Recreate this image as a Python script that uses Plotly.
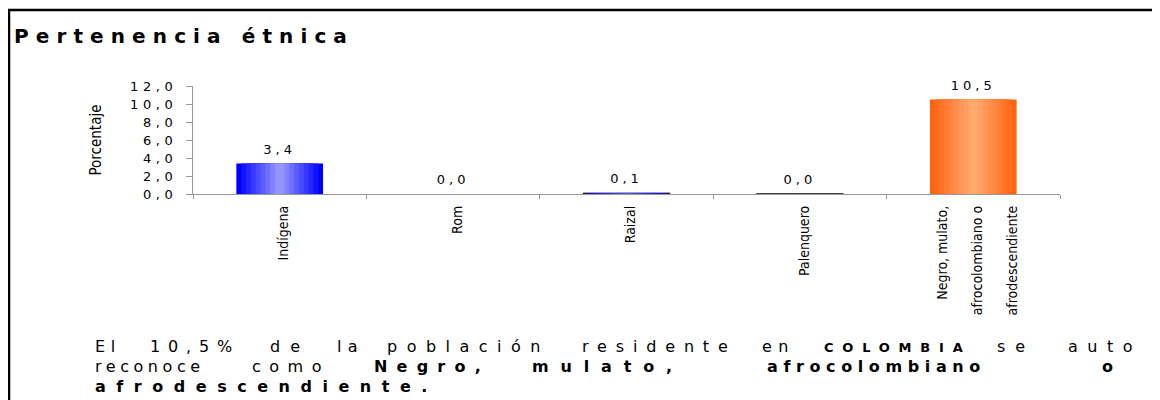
import plotly.graph_objects as go

# ---------------- data ----------------
categories = ["Indígena", "Rom", "Raizal", "Palenquero",
              "Negro, mulato, afrocolombiano o afrodescendiente"]
tick_labels = ["Indígena", "Rom", "Raizal", "Palenquero",
               "Negro, mulato,<br>afrocolombiano o<br>afrodescendiente"]
values = [3.4, 0.0, 0.1, 0.03, 10.5]
y_tick_values = [0, 2, 4, 6, 8, 10, 12]
y_tick_labels = ["0,0", "2,0", "4,0", "6,0", "8,0", "10,0", "12,0"]
title_text = "Pertenencia étnica"
y_title = "Porcentaje"

# ---------------- styles ----------------
edge_colors = ["#0000FF", "#0000FF", "#0000FF", "#404040", "#FF6410"]
center_colors = ["#9494FF", "#9494FF", "#5050FF", "#404040", "#FFA86C"]
outline_colors = ["rgba(0,0,0,0)", "rgba(0,0,0,0)", "#2a2a1a", "#333333", "rgba(0,0,0,0)"]
outline_widths = [0, 0, 1, 1, 0]

OFF = 8  # page body margin
W, H = 1152, 392
ML, MR, MT, MB = 185, 100, 78, 206
PW, PH = W - ML - MR, H - MT - MB

NARROW = "Liberation Sans Narrow, DejaVu Sans Condensed, Arial Narrow, sans-serif"


def px(x):
    return (x - OFF - ML) / PW


def py(y):
    return (H - MB - (y - OFF)) / PH


REG = {' ': .318, '%': .950, ',': .318, '.': .318, 'E': .632, 'a': .613, 'b': .635,
       'c': .550, 'd': .635, 'e': .615, 'i': .278, 'l': .278, 'm': .974, 'n': .634,
       'o': .612, 'ó': .612, 'p': .635, 'r': .411, 's': .521, 't': .392, 'u': .634}
BOLD = {' ': .348, 'a': .675, 'b': .716, 'c': .593, 'd': .716, 'e': .678, 'é': .678,
        'f': .435, 'g': .716, 'i': .343, 'l': .343, 'm': 1.042, 'n': .712, 'o': .687,
        'r': .493, 's': .595, 't': .478, 'u': .712, ',': .380, '.': .380, 'N': .837,
        'C': .734, 'O': .850, 'L': .637, 'M': .995, 'B': .762, 'I': .372, 'A': .774,
        'P': .733}


def spaced(text, size, bold, target):
    table = BOLD if bold else REG
    nat = sum(table.get(c, .636) for c in text) * size
    ls = max(0.0, (target - nat) / len(text))
    s = f'<span style="letter-spacing:{ls:.2f}px">{text}</span>'
    return f"<b>{s}</b>" if bold else s


def hex2rgb(h):
    h = h.lstrip('#')
    return tuple(int(h[i:i + 2], 16) for i in (0, 2, 4))


def mix(a, b, t):
    ra, rb = hex2rgb(a), hex2rgb(b)
    return "rgb(%d,%d,%d)" % tuple(round(ra[i] + (rb[i] - ra[i]) * t) for i in range(3))


fig = go.Figure()

# gradient bars: overlaid layers of decreasing width
N = 9
BAR_W = 0.5
for k in range(N):
    t = k / (N - 1)
    first = k == 0
    fig.add_trace(go.Bar(
        x=categories, y=values,
        width=BAR_W * (1 - k / N),
        marker=dict(color=[mix(e, c, t) for e, c in zip(edge_colors, center_colors)],
                    line=dict(color=outline_colors if first else "rgba(0,0,0,0)",
                              width=outline_widths if first else 0)),
        hoverinfo="skip",
        showlegend=False,
    ))

# value labels (invisible markers give the gap above each bar)
fig.add_trace(go.Scatter(
    x=categories, y=values, mode="markers+text",
    marker=dict(size=9, color="rgba(0,0,0,0)"),
    text=[f"{v:.1f}".replace(".", ",") for v in values],
    texttemplate='<span style="letter-spacing:4px">%{text}</span>',
    textposition="top center",
    textfont=dict(family="DejaVu Sans", size=13, color="#000"),
    cliponaxis=False, hoverinfo="skip", showlegend=False,
))

x_ticktext = [f'<span style="font-size:14px">{t}</span>' for t in tick_labels]
y_ticktext = [f'<span style="letter-spacing:4.6px">{t}</span>' for t in y_tick_labels]

annotations = [
    dict(text=spaced(title_text, 20, True, 340), x=px(12), y=py(36),
         xref="paper", yref="paper", xanchor="left", yanchor="middle", showarrow=False,
         font=dict(family="DejaVu Sans", size=20, color="#000")),
]

BS = 16
body_words = [
    # (text, size, bold, x_start, x_end, y_center)
    ("El", BS, False, 93, 119, 346),
    ("10,5%", BS, False, 148, 238, 346),
    ("de", BS, False, 268, 308, 346),
    ("la", BS, False, 335, 362, 346),
    ("población", BS, False, 385, 548, 346),
    ("residente", BS, False, 580, 735, 346),
    ("en", BS, False, 760, 793, 346),
    ("COLOMBIA", 13, True, 822, 970, 347),
    ("se", BS, False, 995, 1033, 346),
    ("auto", BS, False, 1066, 1140, 346),
    ("reconoce", BS, False, 93, 203, 366),
    ("como", BS, False, 250, 328, 366),
    ("Negro,", BS, True, 372, 488, 366),
    ("mulato,", BS, True, 530, 682, 366),
    ("afrocolombiano", BS, True, 765, 984, 366),
    ("o", BS, True, 1100, 1124, 366),
    ("afrodescendiente.", BS, True, 93, 436, 386),
]
for text, size, bold, x0, x1, yc in body_words:
    annotations.append(dict(
        text=spaced(text, size, bold, x1 - x0), x=px(x0), y=py(yc),
        xref="paper", yref="paper", xanchor="left", yanchor="middle", showarrow=False,
        font=dict(family="DejaVu Sans", size=size, color="#000")))

shapes = [
    dict(type="line", xref="paper", yref="paper", x0=px(8), x1=px(1160), y0=py(10), y1=py(10),
         line=dict(color="#000", width=2.5)),
    dict(type="line", xref="paper", yref="paper", x0=px(9), x1=px(9), y0=py(9), y1=py(400),
         line=dict(color="#000", width=2.5)),
]

fig.update_layout(
    width=W, height=H,
    margin=dict(l=ML, r=MR, t=MT, b=MB, pad=0),
    paper_bgcolor="white", plot_bgcolor="white",
    barmode="overlay",
    separators=",.",
    showlegend=False,
    annotations=annotations,
    shapes=shapes,
    xaxis=dict(type="category", categoryorder="array", categoryarray=categories,
               tickvals=categories, ticktext=x_ticktext,
               tickangle=-90, tickson="boundaries", ticks="outside", ticklen=4,
               tickcolor="#999", showline=True, linecolor="#999", linewidth=1,
               showgrid=False, zeroline=False, automargin=False,
               tickfont=dict(family=NARROW, size=27, color="#000")),
    yaxis=dict(range=[0, 12], tickvals=y_tick_values, ticktext=y_ticktext,
               ticks="outside", ticklen=6, tickcolor="#999", ticklabelstandoff=6,
               showline=True, linecolor="#999", linewidth=1, showgrid=False, zeroline=False,
               automargin=False,
               tickfont=dict(family="DejaVu Sans", size=13, color="#000"),
               title=dict(text=y_title, standoff=24,
                          font=dict(family=NARROW, size=15, color="#000"))),
)

fig.write_html("out.html")
